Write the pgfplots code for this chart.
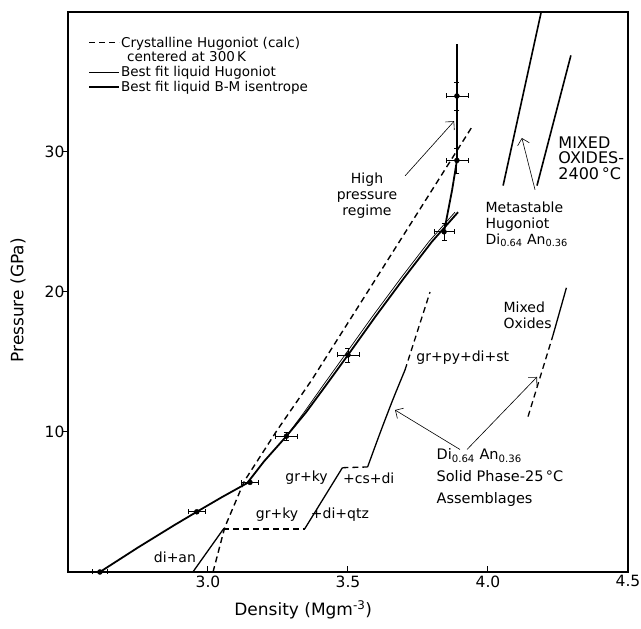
\documentclass[border=0pt]{standalone}
\usepackage{pgfplots}
\pgfplotsset{compat=1.18}
\usepackage{fontspec}
\setmainfont{DejaVu Sans}
\usetikzlibrary{arrows.meta}
\begin{document}
\begin{tikzpicture}
\begin{axis}[
  at={(0,0)}, anchor=south west,
  width=560pt, height=560pt, scale only axis,
  xmin=2.5, xmax=4.5, ymin=0, ymax=40,
  clip=false,
  axis line style={line width=1.6pt},
  xtick={3,3.5,4,4.5}, xticklabels={3.0,3.5,4.0,4.5},
  ytick={10,20,30},
  tick pos=left, tick align=inside, major tick length=6pt,
  tick style={line width=1pt, black},
  ytick style={xshift=-6pt},
  every tick label/.append style={font=\fontsize{15.5}{15.5}\selectfont},
  /pgf/number format/assume math mode=true,
  xlabel={Density (Mgm\textsuperscript{-3})},
  ylabel={Pressure (GPa)},
  label style={font=\fontsize{17}{17}\selectfont},
  xlabel style={at={(axis description cs:0.42,-0.068)}, anchor=center},
  ylabel style={at={(axis description cs:-0.089,0.485)}, anchor=center},
  legend style={draw=none, fill=none, at={(axis cs:2.561,38.45)}, anchor=north west,
    font=\fontsize{13.5}{14}\selectfont, cells={anchor=west}, row sep=1pt,
    nodes={inner sep=1pt}},
  legend image code/.code={\draw[#1] (0pt,0pt) -- (30pt,0pt);},
  solidphase/.style={black, line width=1.3pt, forget plot},
  dashedphase/.style={black, line width=1.3pt, dash pattern=on 6pt off 4pt, forget plot},
]
\addlegendimage{black, line width=1.4pt, dash pattern=on 6pt off 4pt}
\addlegendentry{Crystalline Hugoniot (calc)}
\addlegendimage{empty legend}
\addlegendentry{\hspace*{6pt}centered at 300\,K}
\addlegendimage{black, line width=0.7pt}
\addlegendentry{Best fit liquid Hugoniot}
\addlegendimage{black, line width=1.8pt}
\addlegendentry{Best fit liquid B-M isentrope}

% crystalline Hugoniot (calc)
\addplot[black, line width=1.4pt, dash pattern=on 6pt off 4pt, forget plot] coordinates {
(3.018,0) (3.06,3.2) (3.13,6.5) (3.246,10.1) (3.37,13.7) (3.614,21.4) (3.943,31.8)};

% best fit liquid B-M isentrope (thick)
\addplot[black, line width=1.8pt, forget plot] coordinates {
(2.614,0.0) (2.75,1.75) (2.88,3.35) (2.96,4.3) (3.05,5.35) (3.14,6.35) (3.20,7.9) (3.28,9.7)
(3.35,11.4) (3.42,13.3) (3.50,15.5) (3.60,18.3) (3.70,21.0) (3.80,23.6) (3.893,25.7)};
% best fit liquid Hugoniot (thin)
\addplot[black, line width=0.7pt, forget plot] coordinates {
(3.28,9.7) (3.343,11.4) (3.41,13.3) (3.489,15.5) (3.589,18.3) (3.689,21.0) (3.789,23.6) (3.882,25.7)};

% high pressure regime
\addplot[black, line width=1.8pt, forget plot] coordinates {
(3.843,24.3) (3.872,27.3) (3.889,29.4) (3.889,37.7)};

% solid phase assemblages
\addplot[solidphase] coordinates {(2.946,0) (3.055,3.07)};
\addplot[dashedphase] coordinates {(3.055,3.07) (3.345,3.07)};
\addplot[solidphase] coordinates {(3.345,3.07) (3.48,7.45)};
\addplot[dashedphase] coordinates {(3.48,7.45) (3.57,7.5)};
\addplot[solidphase, smooth] coordinates {(3.57,7.5) (3.614,9.9) (3.66,12.3) (3.7036,14.43)};
\addplot[dashedphase] coordinates {(3.7036,14.43) (3.793,20.0)};

% mixed oxides (solid phase)
\addplot[dashedphase] coordinates {(4.143,11.1) (4.232,16.9)};
\addplot[solidphase] coordinates {(4.232,16.9) (4.28,20.3)};

% metastable Hugoniot / mixed oxides 2400 C
\addplot[black, line width=1.6pt, forget plot] coordinates {(4.054,27.6) (4.19,40)};
\addplot[black, line width=1.6pt, forget plot] coordinates {(4.175,27.6) (4.296,36.9)};

% data points
\addplot[black, only marks, mark=*, mark size=2.5pt, forget plot,
  error bars/.cd, x dir=both, x explicit, y dir=both, y explicit,
  error bar style={line width=0.9pt}] coordinates {
(2.614,0) +- (0.026,0)
(2.96,4.3) +- (0.03,0)
(3.15,6.4) +- (0.03,0)
(3.28,9.7) +- (0.04,0.3)
(3.50,15.5) +- (0.04,0.5)
(3.843,24.3) +- (0.036,0.6)
(3.889,29.4) +- (0.039,0.9)
(3.889,34.0) +- (0.039,1.0)
};

% annotations
\begin{scope}[font=\fontsize{14}{16}\selectfont]
\node[align=center] at (axis cs:3.568,26.9) {High\\pressure\\regime};
\draw[line width=0.6pt, -{Straight Barb[length=6pt]}] (axis cs:3.704,28.3) -- (axis cs:3.879,32.2);
\node[align=left, anchor=north west, font=\fontsize{16}{15.5}\selectfont] at (axis cs:4.239,31.36) {MIXED\\OXIDES-\\2400\,°C};
\node[align=left, anchor=north west] at (axis cs:3.979,26.7) {Metastable\\Hugoniot\\Di\textsubscript{0.64} An\textsubscript{0.36}};
\draw[line width=0.6pt, -{Straight Barb[length=6pt]}] (axis cs:4.168,27.3) -- (axis cs:4.121,31.0);
\node[align=left, anchor=north west] at (axis cs:4.043,19.57) {Mixed\\Oxides};
\node[anchor=west] at (axis cs:3.732,15.29) {gr+py+di+st};
\node[align=left, anchor=north west, font=\fontsize{14.5}{22}\selectfont] at (axis cs:3.804,9.07) {Di\textsubscript{0.64} An\textsubscript{0.36}\\Solid Phase-25\,°C\\Assemblages};
\draw[line width=0.6pt, -{Straight Barb[length=6pt]}] (axis cs:3.90,8.75) -- (axis cs:3.668,11.57);
\draw[line width=0.6pt, -{Straight Barb[length=6pt]}] (axis cs:3.925,8.75) -- (axis cs:4.175,13.93);
\node[anchor=east] at (axis cs:3.44,6.72) {gr+ky};
\node[anchor=west] at (axis cs:3.47,6.72) {+cs+di};
\node[anchor=east] at (axis cs:3.335,4.07) {gr+ky};
\node[anchor=west] at (axis cs:3.355,4.07) {+di+qtz};
\node at (axis cs:2.882,1.07) {di+an};
\end{scope}
\end{axis}
\pgfresetboundingbox
\useasboundingbox (-68pt,-57pt) rectangle (573pt,572pt);
\end{tikzpicture}
\end{document}
